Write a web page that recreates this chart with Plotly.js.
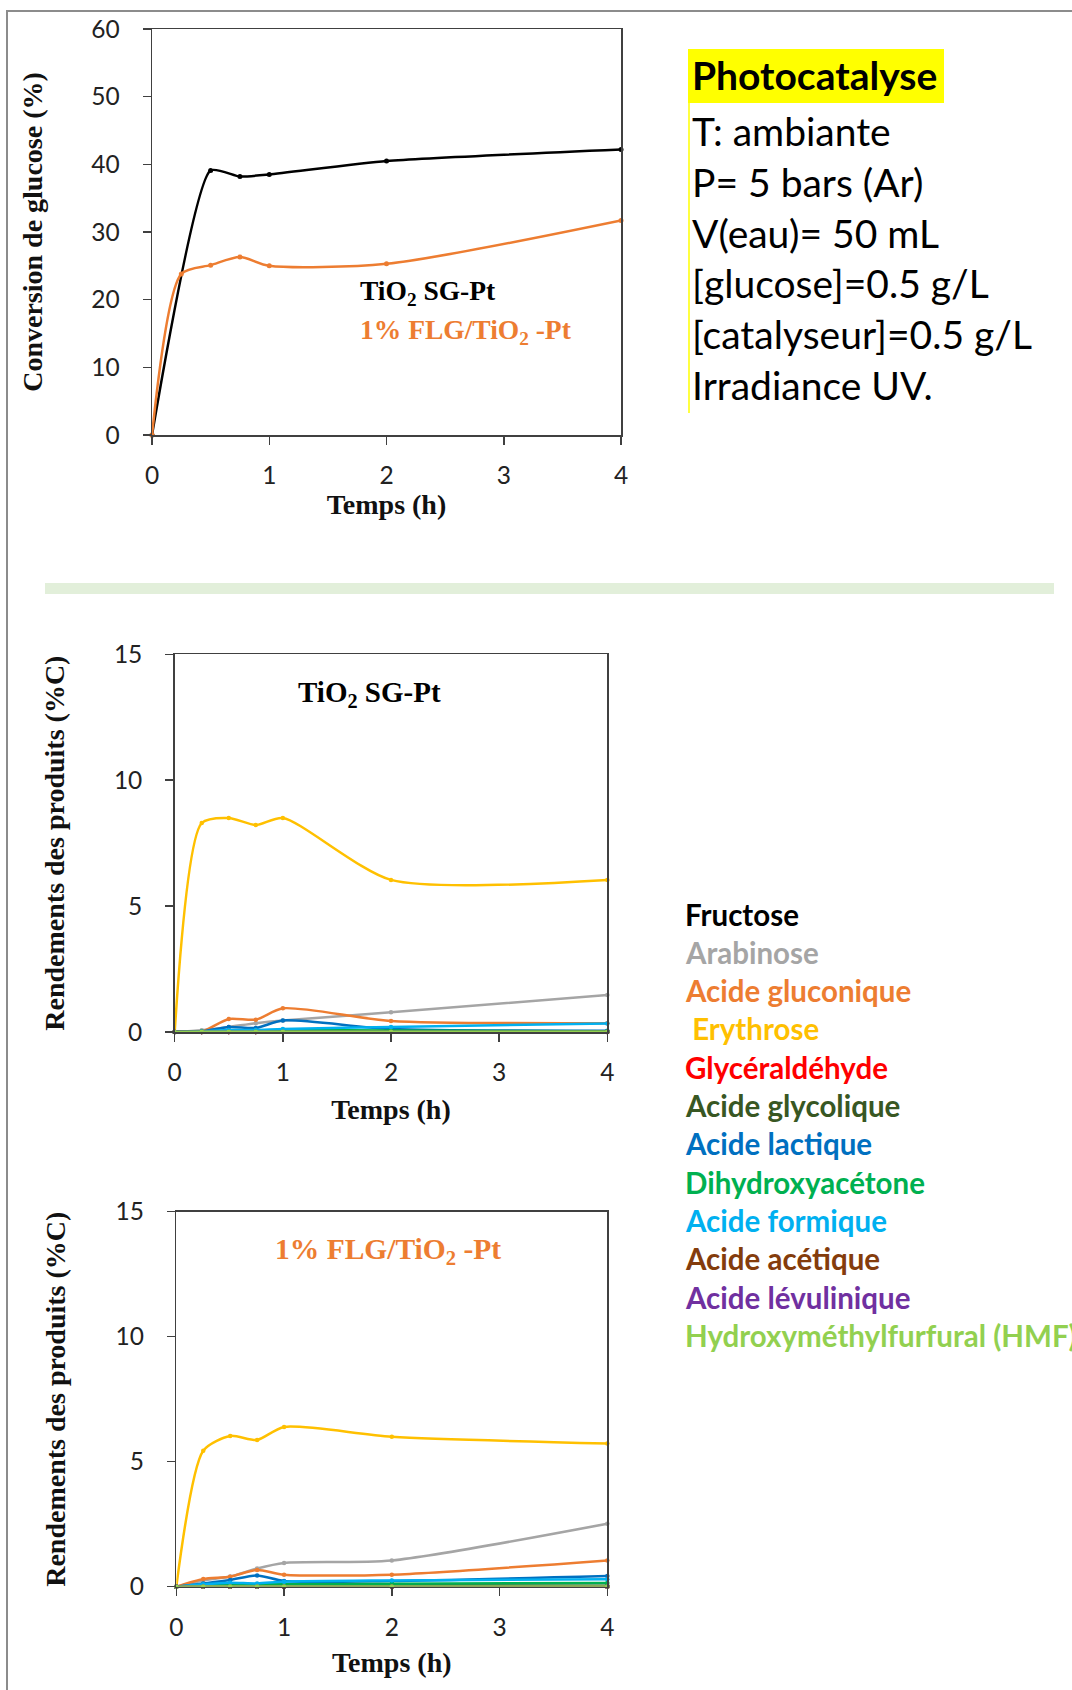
<!DOCTYPE html>
<html>
<head>
<meta charset="utf-8">
<script src="https://cdn.plot.ly/plotly-3.0.1.min.js"></script>
<style>
  html, body { margin: 0; padding: 0; background: #ffffff; }
  #chart { width: 1072px; height: 1690px; }
</style>
</head>
<body>
<div id="chart"></div>
<script>
// ---------------- DATA ----------------
// Conversion de glucose (%)
const convTimesTiO2 = [0, 0.5, 0.75, 1, 2, 4];
const convTiO2 = [0, 39.1, 38.2, 38.5, 40.5, 42.2];
const convTimesFLG = [0, 0.25, 0.5, 0.75, 1, 2, 4];
const convFLG = [0, 23.8, 25.1, 26.3, 25.0, 25.3, 31.7];
const catalystNames = ['TiO<sub>2</sub> SG-Pt', '1% FLG/TiO<sub>2</sub> -Pt'];

// Rendements des produits (%C)
const prodTimes = [0, 0.25, 0.5, 0.75, 1, 2, 4];
const productNames = ['Fructose', 'Arabinose', 'Acide gluconique', '\u00A0Erythrose', 'Glycéraldéhyde',
  'Acide glycolique', 'Acide lactique', 'Dihydroxyacétone', 'Acide formique', 'Acide acétique',
  'Acide lévulinique', 'Hydroxyméthylfurfural (HMF)'];
const productColors = ['#000000', '#A5A5A5', '#ED7D31', '#FFC000', '#FF0000', '#385723',
  '#0070C0', '#00B050', '#00B0F0', '#843C0C', '#7030A0', '#92D050'];

// TiO2 SG-Pt
const tio2Fructose      = [0, 0, 0, 0, 0, 0, 0];
const tio2Arabinose     = [0, 0.07, 0.2, 0.35, 0.46, 0.78, 1.47];
const tio2Gluconique    = [0, 0.02, 0.52, 0.49, 0.94, 0.44, 0.35];
const tio2Erythrose     = [0, 8.3, 8.5, 8.22, 8.5, 6.04, 6.04];
const tio2Glyceral      = [0, 0, 0, 0, 0, 0, 0];
const tio2Glycolique    = [0, 0, 0.02, 0.02, 0.03, 0.03, 0.02];
const tio2Lactique      = [0, 0.02, 0.2, 0.16, 0.46, 0.12, 0.05];
const tio2DHA           = [0, 0.02, 0.05, 0.05, 0.08, 0.06, 0.03];
const tio2Formique      = [0, 0.02, 0.08, 0.08, 0.12, 0.2, 0.34];
const tio2Acetique      = [0, 0, 0, 0, 0, 0, 0];
const tio2Levulinique   = [0, 0, 0, 0, 0, 0, 0];
const tio2HMF           = [0, 0.01, 0.01, 0.01, 0.01, 0.01, 0.01];

// 1% FLG/TiO2 -Pt
const flgFructose       = [0, 0, 0, 0, 0, 0, 0];
const flgArabinose      = [0, 0.25, 0.41, 0.73, 0.95, 1.05, 2.52];
const flgGluconique     = [0, 0.31, 0.4, 0.67, 0.48, 0.48, 1.05];
const flgErythrose      = [0, 5.44, 6.03, 5.87, 6.39, 6.0, 5.73];
const flgGlyceral       = [0, 0, 0, 0, 0, 0, 0];
const flgGlycolique     = [0, 0.03, 0.05, 0.05, 0.06, 0.06, 0.04];
const flgLactique       = [0, 0.13, 0.27, 0.45, 0.23, 0.23, 0.43];
const flgDHA            = [0, 0.05, 0.1, 0.1, 0.1, 0.12, 0.15];
const flgFormique       = [0, 0.1, 0.16, 0.13, 0.2, 0.25, 0.3];
const flgAcetique       = [0, 0, 0, 0, 0, 0, 0];
const flgLevulinique    = [0, 0, 0, 0, 0, 0, 0];
const flgHMF            = [0, 0.01, 0.01, 0.01, 0.01, 0.01, 0.01];

const xTickVals = [0, 1, 2, 3, 4];
const infoTitle = 'Photocatalyse';
const infoLines = ['T: ambiante', 'P= 5 bars (Ar)', 'V(eau)= 50 mL', '[glucose]=0.5 g/L',
  '[catalyseur]=0.5 g/L', 'Irradiance UV.'];

// ---------------- LAYOUT HELPERS ----------------
const W = 1072, H = 1690;
const px = v => v / W;
const py = v => 1 - v / H;

const tio2Series = [tio2Fructose, tio2Arabinose, tio2Gluconique, tio2Erythrose, tio2Glyceral, tio2Glycolique,
  tio2Lactique, tio2DHA, tio2Formique, tio2Acetique, tio2Levulinique, tio2HMF];
const flgSeries = [flgFructose, flgArabinose, flgGluconique, flgErythrose, flgGlyceral, flgGlycolique,
  flgLactique, flgDHA, flgFormique, flgAcetique, flgLevulinique, flgHMF];

const traces = [];
traces.push({x: convTimesTiO2, y: convTiO2, xaxis: 'x', yaxis: 'y', type: 'scatter', mode: 'lines+markers',
  line: {color: '#000000', width: 2.5, shape: 'spline', smoothing: 0.55}, marker: {color: '#000000', size: 5}, cliponaxis: false,
  name: 'TiO2 SG-Pt'});
traces.push({x: convTimesFLG, y: convFLG, xaxis: 'x', yaxis: 'y', type: 'scatter', mode: 'lines+markers',
  line: {color: '#ED7D31', width: 2.5, shape: 'spline', smoothing: 0.75}, marker: {color: '#ED7D31', size: 5}, cliponaxis: false,
  name: '1% FLG/TiO2 -Pt'});

function addProducts(series, xa, ya) {
  series.forEach((vals, i) => {
    traces.push({x: prodTimes, y: vals, xaxis: xa, yaxis: ya, type: 'scatter', mode: 'lines+markers',
      line: {color: productColors[i], width: 2.5, shape: 'spline', smoothing: 0.7},
      marker: {color: productColors[i], size: 4.5}, cliponaxis: false, name: productNames[i]});
  });
}
addProducts(tio2Series, 'x2', 'y2');
addProducts(flgSeries, 'x3', 'y3');

const AX = '#404040';
function xAxis(d0, d1, anchor, title, standoff) {
  return {domain: [px(d0), px(d1)], anchor: anchor, range: [0, 4], tickvals: xTickVals,
    showline: true, linecolor: AX, linewidth: 1.5, mirror: true, ticks: 'outside', ticklen: 8,
    tickcolor: AX, tickwidth: 1.5, showgrid: false, zeroline: false, ticklabelstandoff: 10,
    tickfont: {family: 'Lato', size: 24.5, color: '#222222'},
    title: {text: title, standoff: standoff, font: {family: 'Liberation Serif', size: 28, weight: 700, color: '#111111'}},
    fixedrange: true};
}
function yAxis(d0, d1, anchor, range, dtick, title, standoff) {
  return {domain: [py(d1), py(d0)], anchor: anchor, range: range, dtick: dtick, tick0: 0,
    showline: true, linecolor: AX, linewidth: 1.5, mirror: true, ticks: 'outside', ticklen: 8,
    tickcolor: AX, tickwidth: 1.5, showgrid: false, zeroline: false, ticklabelstandoff: 18,
    tickfont: {family: 'Lato', size: 24.5, color: '#222222'},
    title: {text: title, standoff: standoff, font: {family: 'Liberation Serif', size: 28, weight: 700, color: '#111111'}},
    fixedrange: true};
}

const annotations = [];
const serifBold = (size, color) => ({family: 'Liberation Serif', size: size, weight: 700, color: color});
annotations.push({xref: 'paper', yref: 'paper', x: px(358), y: py(293), xanchor: 'left', yanchor: 'middle',
  text: catalystNames[0], showarrow: false, font: serifBold(27.5, '#000000')});
annotations.push({xref: 'paper', yref: 'paper', x: px(358), y: py(332), xanchor: 'left', yanchor: 'middle',
  text: catalystNames[1], showarrow: false, font: serifBold(27.5, '#ED7D31')});
annotations.push({xref: 'paper', yref: 'paper', x: px(369), y: py(694), xanchor: 'center', yanchor: 'middle',
  text: catalystNames[0], showarrow: false, font: serifBold(29, '#000000')});
annotations.push({xref: 'paper', yref: 'paper', x: px(388), y: py(1251), xanchor: 'center', yanchor: 'middle',
  text: catalystNames[1], showarrow: false, font: serifBold(29.5, '#ED7D31')});

// info box
annotations.push({xref: 'paper', yref: 'paper', x: px(690), y: py(75), xanchor: 'left', yanchor: 'middle',
  text: infoTitle, showarrow: false, font: {family: 'Lato', size: 39, weight: 700, color: '#000000'}});
infoLines.forEach((t, i) => {
  annotations.push({xref: 'paper', yref: 'paper', x: px(690), y: py(131 + i * 50.8), xanchor: 'left', yanchor: 'middle',
    text: t, showarrow: false, font: {family: 'Lato', size: 39, color: '#000000'}});
});

// product legend (coloured text)
productNames.forEach((t, i) => {
  annotations.push({xref: 'paper', yref: 'paper', x: px(683), y: py(914 + i * 38.3), xanchor: 'left', yanchor: 'middle',
    text: t, showarrow: false, font: {family: 'Lato', size: 29.5, weight: 700, color: productColors[i]}});
});

const shapes = [
  // page frame
  {type: 'line', xref: 'paper', yref: 'paper', x0: px(7), x1: px(7), y0: py(11), y1: py(1690), line: {color: '#8c8c8c', width: 2}},
  {type: 'line', xref: 'paper', yref: 'paper', x0: px(6), x1: px(1072), y0: py(11), y1: py(11), line: {color: '#8c8c8c', width: 2}},
  // separator band
  {type: 'rect', xref: 'paper', yref: 'paper', x0: px(45), x1: px(1054), y0: py(594), y1: py(583), fillcolor: '#E2EFDA', line: {width: 0}, layer: 'below'},
  // yellow highlight
  {type: 'rect', xref: 'paper', yref: 'paper', x0: px(688), x1: px(944), y0: py(103), y1: py(49), fillcolor: '#FFFF00', line: {width: 0}, layer: 'below'},
  {type: 'line', xref: 'paper', yref: 'paper', x0: px(689), x1: px(689), y0: py(103), y1: py(413), line: {color: '#FFFF00', width: 1.5}}
];

const layout = {
  width: W, height: H,
  margin: {l: 0, r: 0, t: 0, b: 0},
  paper_bgcolor: '#ffffff', plot_bgcolor: '#ffffff',
  showlegend: false,
  xaxis: xAxis(152, 621, 'y', 'Temps (h)', 2),
  yaxis: yAxis(29, 435, 'x', [0, 60], 10, 'Conversion de glucose (%)', 40),
  xaxis2: xAxis(174.7, 607.3, 'y2', 'Temps (h)', 14),
  yaxis2: yAxis(654.3, 1032, 'x2', [0, 15], 5, 'Rendements des produits (%C)', 41),
  xaxis3: xAxis(176.3, 607.3, 'y3', 'Temps (h)', 13),
  yaxis3: yAxis(1211.7, 1586.7, 'x3', [0, 15], 5, 'Rendements des produits (%C)', 41),
  annotations: annotations,
  shapes: shapes
};

Plotly.newPlot('chart', traces, layout, {displayModeBar: false, staticPlot: true});
</script>
</body>
</html>
